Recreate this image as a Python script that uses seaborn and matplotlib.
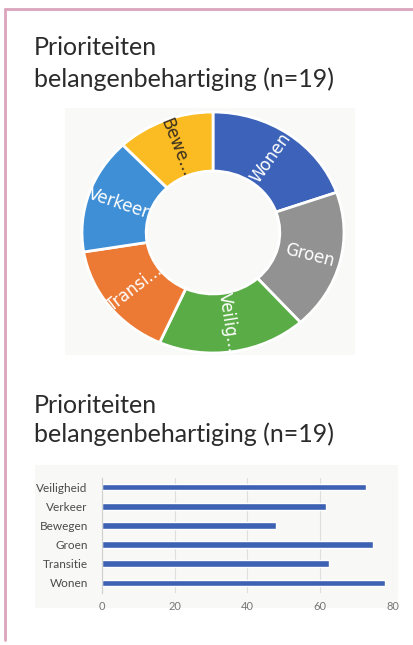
import matplotlib
matplotlib.use("Agg")
import matplotlib.pyplot as plt
import numpy as np
import pandas as pd
import seaborn as sns
from matplotlib.patches import Rectangle
from matplotlib.lines import Line2D

# Priorities (percent of n=19), bar chart order top to bottom
categories = ["Veiligheid", "Verkeer", "Bewegen", "Groen", "Transitie", "Wonen"]
scores = [72.6, 61.6, 47.9, 74.6, 62.5, 77.8]

# Donut: same data, sorted descending, labels truncated like the original
pie_labels = ["Wonen", "Groen", "Veilig...", "Transi...", "Verkeer", "Bewe..."]
pie_values = [77.8, 74.6, 72.6, 62.5, 61.6, 47.9]
pie_colors = ["#3c63b9", "#929292", "#5aad46", "#ec7a35", "#3f8fd6", "#fbbb22"]
pie_text_colors = ["white", "white", "white", "white", "white", "#3a3020"]

title_lines = ["Prioriteiten", "belangenbehartiging (n=19)"]

sns.set_style("white")
plt.rcParams["font.family"] = ["Lato", "DejaVu Sans"]

W, H = 414, 645
fig = plt.figure(figsize=(W / 100, H / 100), dpi=100)
fig.patch.set_facecolor("white")


def fx(x):
    return x / W


def fy(y):
    return 1 - y / H


# pink frame (top and left)
pink = "#dca3bd"
fig.add_artist(Line2D([fx(5), 1], [fy(9), fy(9)], color=pink, lw=2, transform=fig.transFigure))
fig.add_artist(Line2D([fx(5), fx(5)], [fy(9), fy(640)], color=pink, lw=2, transform=fig.transFigure))

# titles
for ty1, ty2 in ((55, 87), (413, 442)):
    fig.text(fx(34), fy(ty1), title_lines[0], fontsize=18, color="#2b2b2b", va="baseline")
    fig.text(fx(34), fy(ty2), title_lines[1], fontsize=18, color="#2b2b2b", va="baseline")

# backgrounds of the pasted chart images
fig.add_artist(Rectangle((fx(65), fy(355)), fx(355) - fx(65), fy(108) - fy(355),
                         transform=fig.transFigure, facecolor="#f9faf8", edgecolor="none", zorder=0))
fig.add_artist(Rectangle((fx(35), fy(608)), fx(398) - fx(35), fy(465) - fy(608),
                         transform=fig.transFigure, facecolor="#f8f8f7", edgecolor="none", zorder=0))

# ---- donut ----
ax1 = fig.add_axes([fx(82), fy(353), fx(344) - fx(82), fy(112) - fy(353)])
ax1.set_facecolor("none")
wedges, _ = ax1.pie(pie_values, colors=pie_colors, startangle=90, counterclock=False,
                    wedgeprops=dict(width=0.49, edgecolor="white", linewidth=2))
ax1.set_aspect("auto")
ax1.set_xlim(-1, 1)
ax1.set_ylim(-1, 1)
for w, lab, tc in zip(wedges, pie_labels, pie_text_colors):
    mid = (w.theta1 + w.theta2) / 2
    r = 0.76
    x = r * np.cos(np.radians(mid))
    y = r * np.sin(np.radians(mid))
    m = (mid + 180) % 360 - 180
    rot = m if -90 <= m <= 90 else m - 180
    rot = (rot + 180) % 360 - 180
    ax1.text(x, y, lab, rotation=rot, rotation_mode="anchor", ha="center", va="center",
             color=tc, fontsize=12, family=["DejaVu Sans"])

# ---- bars ----
ax2 = fig.add_axes([fx(101.7), fy(592.5), fx(393) - fx(101.7), fy(477.5) - fy(592.5)])
ax2.set_facecolor("none")
df = pd.DataFrame({"categorie": categories, "score": scores})
sns.barplot(data=df, x="score", y="categorie", order=categories, color="#3d62b3",
            width=0.35, saturation=1, ax=ax2)
ax2.set_xlim(0, 80)
ax2.set_ylim(5.5, -0.5)
ax2.set_xticks([0, 20, 40, 60, 80])
ax2.set_xlabel("")
ax2.set_ylabel("")
ax2.grid(axis="x", color="#dedede", lw=0.8)
ax2.set_axisbelow(True)
for s in ["top", "right", "bottom"]:
    ax2.spines[s].set_visible(False)
ax2.spines["left"].set_color("#d0d0d0")
ax2.tick_params(axis="y", length=0, labelsize=8.5, labelcolor="#4a4a4a", pad=10)
ax2.tick_params(axis="x", length=0, labelsize=8, labelcolor="#777777", pad=6)

fig.savefig("out.png", dpi=100)
